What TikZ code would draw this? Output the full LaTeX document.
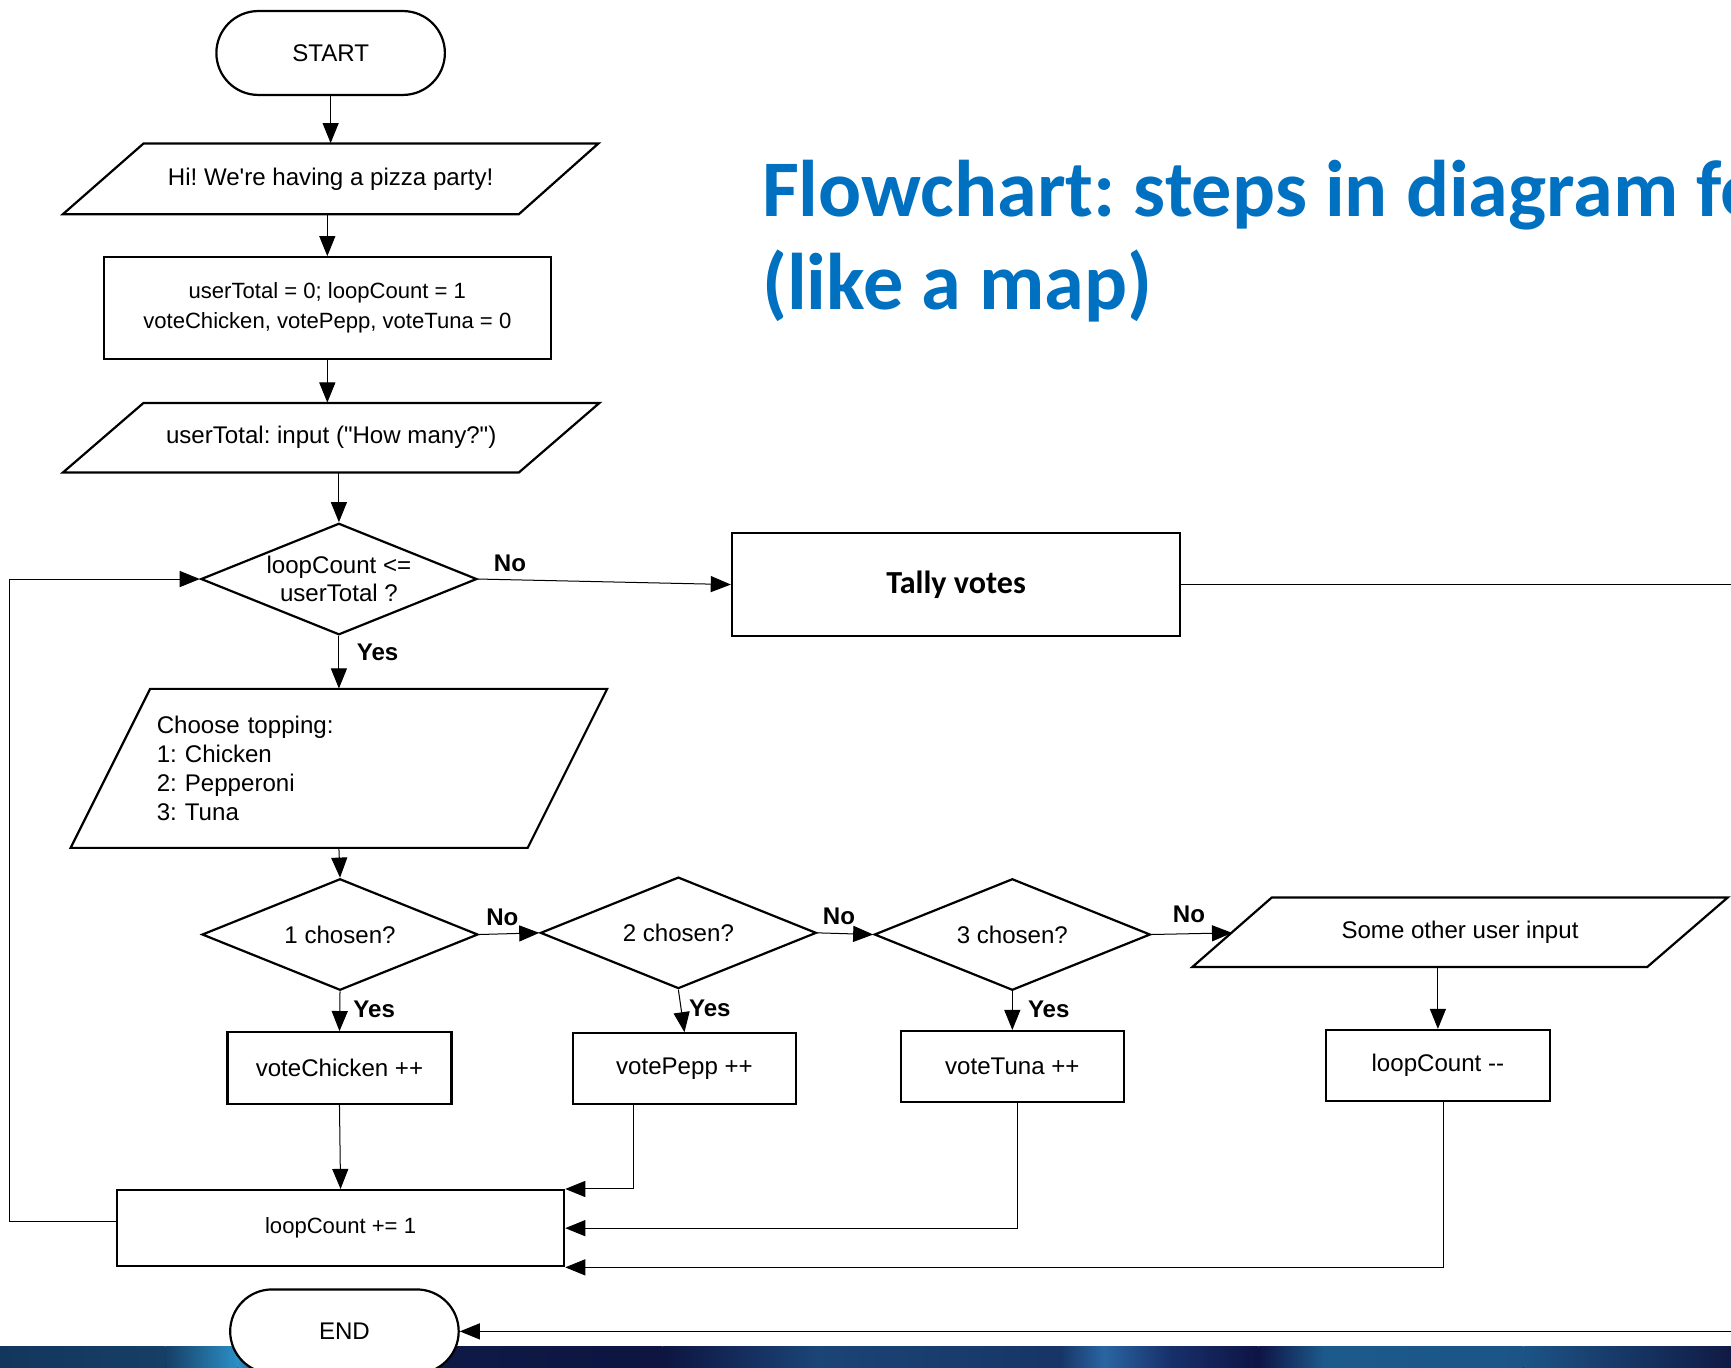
\documentclass[tikz,border=0pt]{standalone}
\usepackage{fontspec}
\setmainfont{Liberation Sans}[Ligatures=TeXOff]
\newfontfamily\calibri{Carlito}
\usetikzlibrary{shapes.geometric,arrows.meta,calc}
\frenchspacing

\definecolor{titleblue}{HTML}{0070C0}
\newcommand{\px}{0.55pt}

\begin{document}
\begin{tikzpicture}[x=0.55pt,y=-0.55pt,
    every node/.style={font=\fontsize{12}{14.3}\selectfont},
    shape line/.style={line width=1.1pt},
    box/.style={draw,line width=1.1pt,rectangle,inner sep=0pt,align=center,fill=white},
    term/.style={draw,line width=1.1pt,rectangle,rounded corners=20.9pt,fill=white,minimum width=207*\px,minimum height=76*\px},
    iotext/.style={inner sep=0pt,align=center},
    decision/.style={draw,line width=1.1pt,diamond,aspect=2.5,inner sep=0pt,align=center,minimum width=250*\px,minimum height=101*\px},
    arr/.style={-{Triangle[length=10pt,width=8pt]},line width=0.5pt},
    lbl/.style={font=\fontsize{12}{14}\selectfont\bfseries}]
\useasboundingbox (0,0) rectangle (1568,1239);
\clip (0,0) rectangle (1568,1239);
\fill[white] (0,0) rectangle (1568,1239);

% slide title
\node[anchor=base west,inner sep=0pt,text=titleblue,font=\calibri\bfseries\fontsize{40}{47}\selectfont] (title a) at (690,196) {Flowchart: steps in diagram form};
\node[anchor=base west,inner sep=0pt,text=titleblue,font=\calibri\bfseries\fontsize{40}{47}\selectfont] (title b) at (690,280) {(like a map)};

\node[term] (start) at (299.5,48) {START};
\node[iotext,minimum width=340*\px,minimum height=64*\px] (hi) at (299.5,162) {Hi! We're having a pizza party!};
\draw[shape line] (57,194) -- (470,194) -- (542,130) -- (130,130) -- cycle;
\node[box,minimum width=405*\px,minimum height=92*\px,font=\fontsize{11}{14.8}\selectfont] (init) at (296.5,279) {userTotal = 0; loopCount = 1\\voteChicken, votePepp, voteTuna = 0};
\node[iotext,minimum width=340*\px,minimum height=63*\px] (howmany) at (300,396.5) {userTotal: input ("How many?")};
\draw[shape line] (57,428) -- (470,428) -- (543,365) -- (130,365) -- cycle;
\node[decision] (cond) at (307,524.5) {loopCount <=\\userTotal ?};
\node[box,minimum width=406*\px,minimum height=93*\px,font=\calibri\bfseries\fontsize{16}{19}\selectfont] (tally) at (866,529.5) {Tally votes};
\coordinate (tally out) at (1568,529.5);
\node[iotext,text width=330*\px,align=left,minimum height=144*\px] (choose) at (307,696) {Choose topping:\\1: Chicken\\2: Pepperoni\\3: Tuna};
\draw[shape line] (64,768) -- (478,768) -- (550,624) -- (136,624) -- cycle;

\node[decision] (one) at (308,846.5) {1 chosen?};
\node[decision] (two) at (614.5,845) {2 chosen?};
\node[decision] (three) at (917,846.5) {3 chosen?};
\node[iotext,minimum width=340*\px,minimum height=63*\px] (other) at (1322.5,844.5) {Some other user input};
\draw[shape line] (1080,876) -- (1492,876) -- (1565,813) -- (1152,813) -- cycle;
\coordinate (other in) at (1116,845);

\node[box,minimum width=203*\px,minimum height=65*\px] (chicken) at (307.5,967.5) {voteChicken ++};
\node[box,minimum width=202*\px,minimum height=64*\px] (pepp) at (620,968) {votePepp ++};
\node[box,minimum width=202*\px,minimum height=64*\px] (tuna) at (917,966) {voteTuna ++};
\node[box,minimum width=203*\px,minimum height=64*\px] (dec) at (1302.5,965) {loopCount --};
\node[box,minimum width=405*\px,minimum height=69*\px,font=\fontsize{11}{13}\selectfont] (inc) at (308.5,1112.5) {loopCount += 1};

% yes / no labels
\node[lbl] (no a) at (462,510) {No};
\node[lbl] (yes a) at (342,591) {Yes};
\node[lbl] (no b) at (455,831) {No};
\node[lbl] (no c) at (760,830) {No};
\node[lbl] (no d) at (1077,828) {No};
\node[lbl] (yes b) at (339,914) {Yes};
\node[lbl] (yes c) at (643,913) {Yes};
\node[lbl] (yes d) at (950,914) {Yes};

\draw[arr] (start) -- (hi);
\draw[arr] (init.north |- hi.south) -- (init.north);
\draw[arr] (init.south) -- (init.south |- howmany.north);
\draw[arr] (cond.north |- howmany.south) -- (cond.north);
\draw[arr] (cond.east) -- (tally.west);
\draw[line width=0.5pt] (tally.east) -- (tally out);
\draw[arr] (cond.south) -- (choose.north);
\draw[arr] (choose.south) -- (one.north);
\draw[arr] (one.east) -- (two.west);
\draw[arr] (two.east) -- (three.west);
\draw[arr] (three.east) -- (other in);
\draw[arr] (one.south) -- (chicken.north);
\draw[arr] (two.south) -- (pepp.north);
\draw[arr] (three.south) -- (tuna.north);
\draw[arr] (dec.north |- other.south) -- (dec.north);
\draw[arr] (chicken.south) -- (inc.north);
\draw[arr] ([xshift=-46*\px]pepp.south) |- (inc.north east);
\draw[arr] ([xshift=5*\px]tuna.south) |- (inc.east);
\draw[arr] ([xshift=5*\px]dec.south) |- (inc.south east);
\draw[arr] ([yshift=3.3pt]inc.west) -- ++(-96,0) |- (cond.west);

% dark band of the slide background
\fill[left color={rgb,255:red,19;green,54;blue,92},right color={rgb,255:red,22;green,63;blue,102}] (0,1220) rectangle (150,1239);
\fill[left color={rgb,255:red,22;green,63;blue,102},right color={rgb,255:red,43;green,143;blue,198}] (150,1220) rectangle (215,1239);
\fill[left color={rgb,255:red,43;green,143;blue,198},right color={rgb,255:red,15;green,29;blue,74}] (215,1220) rectangle (260,1239);
\fill[left color={rgb,255:red,15;green,29;blue,74},right color={rgb,255:red,13;green,21;blue,64}] (260,1220) rectangle (600,1239);
\fill[left color={rgb,255:red,13;green,21;blue,64},right color={rgb,255:red,27;green,68;blue,119}] (600,1220) rectangle (740,1239);
\fill[left color={rgb,255:red,27;green,68;blue,119},right color={rgb,255:red,23;green,53;blue,102}] (740,1220) rectangle (960,1239);
\fill[left color={rgb,255:red,23;green,53;blue,102},right color={rgb,255:red,42;green,101;blue,162}] (960,1220) rectangle (1000,1239);
\fill[left color={rgb,255:red,42;green,101;blue,162},right color={rgb,255:red,23;green,48;blue,106}] (1000,1220) rectangle (1060,1239);
\fill[left color={rgb,255:red,23;green,48;blue,106},right color={rgb,255:red,14;green,20;blue,69}] (1060,1220) rectangle (1140,1239);
\fill[left color={rgb,255:red,14;green,20;blue,69},right color={rgb,255:red,29;green,90;blue,140}] (1140,1220) rectangle (1200,1239);
\fill[left color={rgb,255:red,29;green,90;blue,140},right color={rgb,255:red,28;green,84;blue,134}] (1200,1220) rectangle (1380,1239);
\fill[left color={rgb,255:red,28;green,84;blue,134},right color={rgb,255:red,16;green,26;blue,68}] (1380,1220) rectangle (1568,1239);

\node[term] (end) at (312,1206) {END};
\coordinate (end in) at (1568,1206);
\draw[arr] (end in) -- (end.east);
\end{tikzpicture}
\end{document}
